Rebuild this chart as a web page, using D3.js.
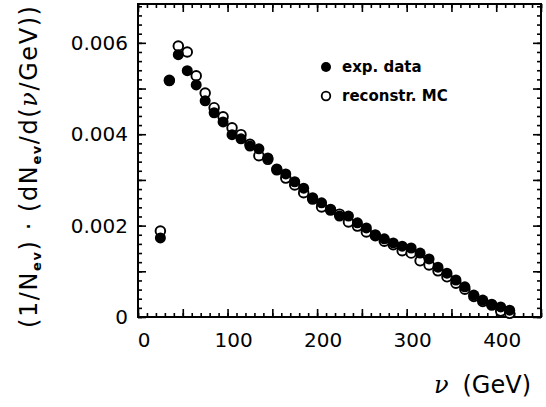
<html>
<head>
<style>
  body { margin: 0; background: white; }
  text { font-family: "DejaVu Sans", sans-serif; fill: black; }
</style>
</head>
<body>
<svg id="chart" width="546" height="407"></svg>
<script src="https://d3js.org/d3.v7.min.js"></script>
<script>
// bin centres (GeV)
const NU = [25, 35, 45, 55, 65, 75, 85, 95, 105, 115, 125, 135, 145, 155, 165, 175, 185, 195, 205, 215,
            225, 235, 245, 255, 265, 275, 285, 295, 305, 315, 325, 335, 345, 355, 365, 375, 385, 395, 405, 415];
// exp. data (filled)
const EXP_DATA = [0.00173, 0.00517, 0.00574, 0.00539, 0.00508, 0.00473, 0.00447, 0.00427, 0.00399, 0.00390,
                  0.00374, 0.00368, 0.00348, 0.00324, 0.00313, 0.00296, 0.00282, 0.00261, 0.00250, 0.00236,
                  0.00221, 0.00221, 0.00206, 0.00195, 0.00180, 0.00171, 0.00162, 0.00155, 0.00151, 0.00140,
                  0.00127, 0.00109, 0.00096, 0.00081, 0.00066, 0.00048, 0.00037, 0.00028, 0.00022, 0.00015];
// reconstr. MC (open)
const MC_DATA = [0.00188, 0.00518, 0.00593, 0.00580, 0.00528, 0.00490, 0.00458, 0.00438, 0.00414, 0.00399,
                 0.00378, 0.00353, 0.00345, 0.00322, 0.00304, 0.00289, 0.00272, 0.00258, 0.00241, 0.00234,
                 0.00225, 0.00208, 0.00199, 0.00186, 0.00178, 0.00166, 0.00158, 0.00145, 0.00140, 0.00123,
                 0.00114, 0.00101, 0.00088, 0.00074, 0.00061, 0.00045, 0.00034, 0.00026, 0.00013, 0.00008];
const X_LABELS = [0, 100, 200, 300, 400];
const Y_LABELS = [0, 0.002, 0.004, 0.006];
const X_MINOR = [0,10,20,30,40,50,60,70,80,90,100,110,120,130,140,150,160,170,180,190,200,210,220,230,240,
                 250,260,270,280,290,300,310,320,330,340,350,360,370,380,390,400,410,420,430,440,450];
const X_MAJOR = [0, 50, 100, 150, 200, 250, 300, 350, 400, 450];
const Y_MAJOR = [0, 0.001, 0.002, 0.003, 0.004, 0.005, 0.006];
const Y_MINOR = [0,0.0002,0.0004,0.0006,0.0008,0.001,0.0012,0.0014,0.0016,0.0018,0.002,0.0022,0.0024,0.0026,
                 0.0028,0.003,0.0032,0.0034,0.0036,0.0038,0.004,0.0042,0.0044,0.0046,0.0048,0.005,0.0052,
                 0.0054,0.0056,0.0058,0.006,0.0062,0.0064,0.0066,0.0068];

const L = 138, R = 541, T = 4, B = 317;
const svg = d3.select("#chart");
const x = d3.scaleLinear().domain([0, 450]).range([L, R]);
const y = d3.scaleLinear().domain([0, 0.00685]).range([B, T]);

function tickAxis(axis, g) {
    g.call(axis).call(s => s.select(".domain").remove());
    g.selectAll("line").attr("stroke", "black").attr("stroke-width", 1.6);
}

// inward ticks on all four sides
[[d3.axisBottom, B], [d3.axisTop, T]].forEach(([ax, pos]) => {
    tickAxis(ax(x).tickValues(X_MINOR).tickSize(-4).tickFormat(""), svg.append("g").attr("transform", `translate(0,${pos})`));
    tickAxis(ax(x).tickValues(X_MAJOR).tickSize(-8).tickFormat(""), svg.append("g").attr("transform", `translate(0,${pos})`));
});
[[d3.axisLeft, L], [d3.axisRight, R]].forEach(([ax, pos]) => {
    tickAxis(ax(y).tickValues(Y_MINOR).tickSize(-4).tickFormat(""), svg.append("g").attr("transform", `translate(${pos},0)`));
    tickAxis(ax(y).tickValues(Y_MAJOR).tickSize(-8).tickFormat(""), svg.append("g").attr("transform", `translate(${pos},0)`));
});

svg.append("rect").attr("x", L).attr("y", T).attr("width", R - L).attr("height", B - T)
    .attr("fill", "none").attr("stroke", "black").attr("stroke-width", 2);

// tick labels
svg.selectAll(".xl").data(X_LABELS).join("text")
    .attr("x", d => x(d) + 6).attr("y", 347).attr("text-anchor", "middle")
    .style("font-size", "20px").text(d => d);
svg.selectAll(".yl").data(Y_LABELS).join("text")
    .attr("x", 128).attr("y", d => y(d) + 7).attr("text-anchor", "end")
    .style("font-size", "20px").text(d => d === 0 ? "0" : d3.format(".3f")(d));

// points: open first, filled on top
svg.append("g").selectAll("circle").data(NU).join("circle")
    .attr("cx", d => x(d)).attr("cy", (d, i) => y(MC_DATA[i])).attr("r", 4.8)
    .attr("fill", "white").attr("stroke", "black").attr("stroke-width", 1.9);
svg.append("g").selectAll("circle").data(NU).join("circle")
    .attr("cx", d => x(d)).attr("cy", (d, i) => y(EXP_DATA[i])).attr("r", 5.5)
    .attr("fill", "black");

// legend
svg.append("circle").attr("cx", 326).attr("cy", 67).attr("r", 5).attr("fill", "black");
svg.append("text").attr("x", 342).attr("y", 72).style("font-size", "15px").style("font-weight", "bold").text("exp. data");
svg.append("circle").attr("cx", 326).attr("cy", 96).attr("r", 4.3).attr("fill", "white").attr("stroke", "black").attr("stroke-width", 1.8);
svg.append("text").attr("x", 342).attr("y", 101).style("font-size", "15px").style("font-weight", "bold").text("reconstr. MC");

// x title
const xt = svg.append("text").attr("x", 531).attr("y", 393).attr("text-anchor", "end").style("font-size", "24px");
xt.append("tspan").style("font-family", "'DejaVu Serif', serif").style("font-style", "italic").text("ν");
xt.append("tspan").attr("dx", 14).text("(GeV)");

// y title
const yt = svg.append("text").attr("transform", "translate(37,167) rotate(-90)")
    .attr("text-anchor", "middle").attr("textLength", 322).attr("lengthAdjust", "spacing")
    .style("font-size", "24px");
yt.append("tspan").text("(1/N");
yt.append("tspan").attr("dy", 4).style("font-size", "13px").style("font-weight", "bold").text("ev");
yt.append("tspan").attr("dy", -4).text(") · (dN");
yt.append("tspan").attr("dy", 4).style("font-size", "13px").style("font-weight", "bold").text("ev");
yt.append("tspan").attr("dy", -4).text("/d(");
yt.append("tspan").style("font-family", "'DejaVu Serif', serif").style("font-style", "italic").text("ν");
yt.append("tspan").text("/GeV))");
</script>
</body>
</html>
